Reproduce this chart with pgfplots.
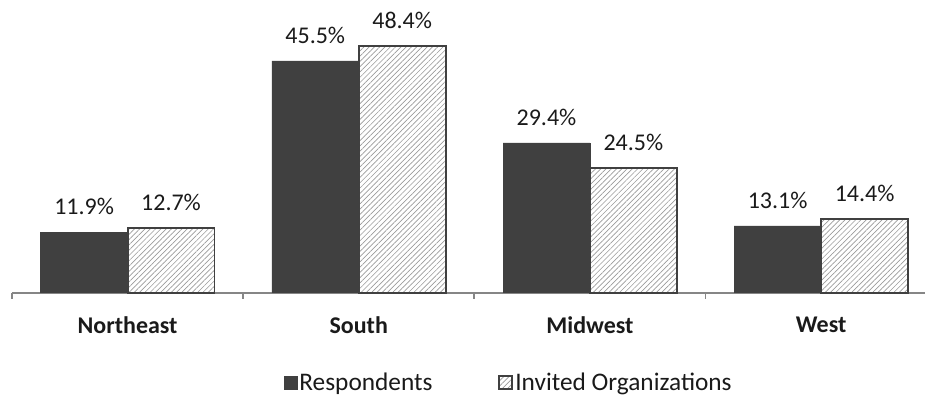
\documentclass[border=0pt]{standalone}
\usepackage{pgfplots}
\pgfplotsset{compat=1.18}
\usepackage{fontspec}
\setmainfont{Carlito}
\usetikzlibrary{patterns.meta}
\definecolor{bardark}{HTML}{404040}
\definecolor{axisgray}{HTML}{868686}
\definecolor{hatchgray}{HTML}{9A9A9A}
\definecolor{txt}{HTML}{1A1A1A}

\pgfplotstableread{
x resp invited
0 11.9 12.7
1 45.5 48.4
2 29.4 24.5
3 13.1 14.4
}\regiondata

\begin{document}
\begin{tikzpicture}
\begin{axis}[
  scale only axis,
  width=685.5pt, height=219.75pt,
  xmin=-0.5, xmax=3.45,
  ymin=0, ymax=57.45,
  axis y line=none,
  axis x line*=bottom,
  x axis line style={draw=axisgray, line width=1.3pt, -},
  xtick={0,1,2,3},
  xticklabels={Northeast,South,Midwest,West},
  major tick length=0pt,
  xticklabel style={font=\fontsize{18}{21}\selectfont\bfseries, text=txt, yshift=-14.5pt},
  extra x ticks={-0.5,0.5,1.5,2.5,3.5},
  extra x tick labels={},
  extra x tick style={major tick length=4.5pt, tick align=outside,
    tick style={draw=axisgray, line width=1.3pt}},
  ybar, bar width=0.376,
  clip=false,
  nodes near coords={\pgfmathprintnumber[fixed,precision=1,fixed zerofill,assume math mode=true]{\pgfplotspointmeta}\%},
  every node near coord/.append style={font=\fontsize{18}{21}\selectfont, text=txt,
    anchor=base, inner sep=0pt, yshift=13.2pt},
  legend style={at={(0.544,-0.307)}, anchor=center, draw=none, fill=none,
    legend columns=2, font=\fontsize{19}{22}\selectfont,
    /tikz/every even column/.append style={column sep=48pt},
    nodes={inner xsep=1.5pt, inner ysep=2pt},
    text=txt, inner sep=0pt},
  legend cell align=left,
  legend image code/.code={\draw[#1] (0pt,-4.9pt) rectangle (9.8pt,4.9pt);},
]
\addplot[bar shift=-0.188, fill=bardark, draw=bardark, line width=0.4pt]
  table[x=x, y=resp] {\regiondata};
\addlegendentry{Respondents}
\addplot[bar shift=0.188, draw=bardark, line width=1.4pt,
  pattern={Lines[angle=45, distance=2.8pt, line width=0.5pt]}, pattern color=hatchgray]
  table[x=x, y=invited] {\regiondata};
\addlegendentry{Invited Organizations}
\end{axis}
\path[use as bounding box] (current axis.south west) ++(-9pt,-76.5pt) rectangle ++(694.5pt,296.25pt);
\end{tikzpicture}
\end{document}
